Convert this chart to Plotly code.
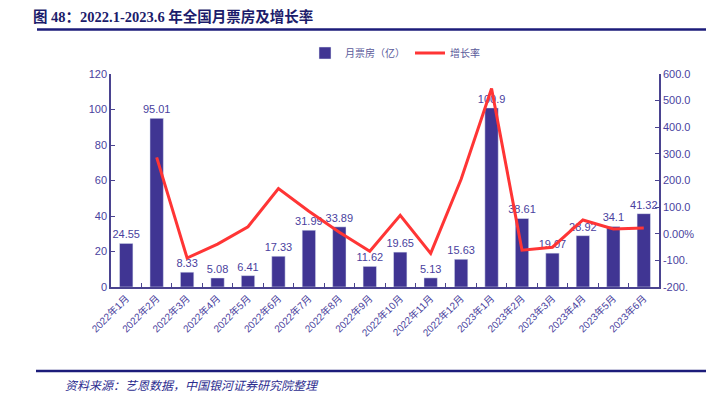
import plotly.graph_objects as go

months = ["2022年1月", "2022年2月", "2022年3月", "2022年4月", "2022年5月", "2022年6月",
          "2022年7月", "2022年8月", "2022年9月", "2022年10月", "2022年11月", "2022年12月",
          "2023年1月", "2023年2月", "2023年3月", "2023年4月", "2023年5月", "2023年6月"]
box_office = [24.55, 95.01, 8.33, 5.08, 6.41, 17.33, 31.99, 33.89, 11.62, 19.65, 5.13, 15.63,
              100.9, 38.61, 19.07, 28.92, 34.1, 41.32]
growth = [None, 287.0, -91.2, -39.0, 26.2, 170.0, 84.6, 5.9, -65.7, 69.1, -73.9, 204.7,
          545.6, -61.7, -50.6, 51.7, 17.9, 21.2]
left_ticks = [0, 20, 40, 60, 80, 100, 120]
right_ticks = [-200, -100, 0, 100, 200, 300, 400, 500, 600]
right_ticktext = ["-200.", "-100.", "0.00%", "100.0", "200.0", "300.0", "400.0", "500.0", "600.0"]

# the page body has an 8px margin, so the figure is drawn offset by 8px
OFF = 8
W, H = 714 - OFF, 397 - OFF
L, R, T, B = 111 - OFF, 659 - OFF, 74 - OFF, 287 - OFF
def px(x): return (x - OFF - L) / (R - L)
def py(y): return (B - (y - OFF)) / (B - T)

INDIGO = "#403593"
TXT = "#4a3f9e"
AX = "#4a4390"

fig = go.Figure()
fig.add_trace(go.Bar(
    x=months, y=box_office, name="月票房（亿）", marker_color=INDIGO,
    text=[f"{v:g}" for v in box_office], textposition="outside", constraintext="none",
    textfont=dict(color=TXT, size=11, family="Liberation Sans, Noto Sans CJK SC"),
    cliponaxis=False,
))
fig.add_trace(go.Scatter(
    x=months, y=growth, name="增长率", yaxis="y2", mode="lines",
    line=dict(color="#FF3535", width=3), connectgaps=False,
))

fig.update_layout(
    width=W, height=H,
    margin=dict(l=L, r=W - R, t=T, b=H - B, autoexpand=False),
    paper_bgcolor="white", plot_bgcolor="white",
    bargap=0.56,
    font=dict(family="Liberation Sans, Noto Sans CJK SC", color=TXT, size=11),
    showlegend=True,
    legend=dict(orientation="h", x=px(395), y=py(53), xanchor="center", yanchor="middle",
                font=dict(size=10, color="#5a5a9a", family="Noto Sans CJK SC"),
                bgcolor="rgba(0,0,0,0)", tracegroupgap=0),
    xaxis=dict(type="category", showline=True, linecolor=AX, linewidth=1.5,
               ticks="inside", tickson="boundaries", ticklen=4, tickcolor=AX,
               tickangle=-45, tickfont=dict(size=10, color=TXT, family="Liberation Sans, Noto Sans CJK SC"),
               showgrid=False, zeroline=False),
    yaxis=dict(range=[0, 120], tickvals=left_ticks, showline=True, linecolor=AX, linewidth=1.5,
               ticks="inside", ticklen=4, tickcolor=AX, showgrid=False, zeroline=False,
               tickfont=dict(size=11, color=TXT)),
    yaxis2=dict(range=[-200, 600], overlaying="y", side="right", tickvals=right_ticks,
                ticktext=right_ticktext, showline=True, linecolor=AX, linewidth=1.5,
                ticks="inside", ticklen=4, tickcolor=AX, showgrid=False, zeroline=False,
                tickfont=dict(size=11, color=TXT)),
)

# title, rules, source
fig.add_annotation(text="<b>图 48：2022.1-2023.6 年全国月票房及增长率</b>", xref="paper", yref="paper",
                   x=px(31), y=py(16), xanchor="left", yanchor="middle", showarrow=False,
                   font=dict(size=14.5, color="#1c1c6b", family="Liberation Serif, Noto Sans CJK SC"))
fig.add_shape(type="line", xref="paper", yref="paper", x0=px(37), x1=px(714), y0=py(29.5), y1=py(29.5),
              line=dict(color="#1c1c7a", width=2.5))
fig.add_shape(type="line", xref="paper", yref="paper", x0=px(36), x1=px(714), y0=py(371), y1=py(371),
              line=dict(color="#1c1c7a", width=2.5))
fig.add_annotation(text="<i>资料来源：艺恩数据，中国银河证券研究院整理</i>", xref="paper", yref="paper",
                   x=px(63), y=py(384), xanchor="left", yanchor="middle", showarrow=False,
                   font=dict(size=12, color="#2d2d8f", family="Noto Sans CJK SC"))

fig.write_html("out.html")
